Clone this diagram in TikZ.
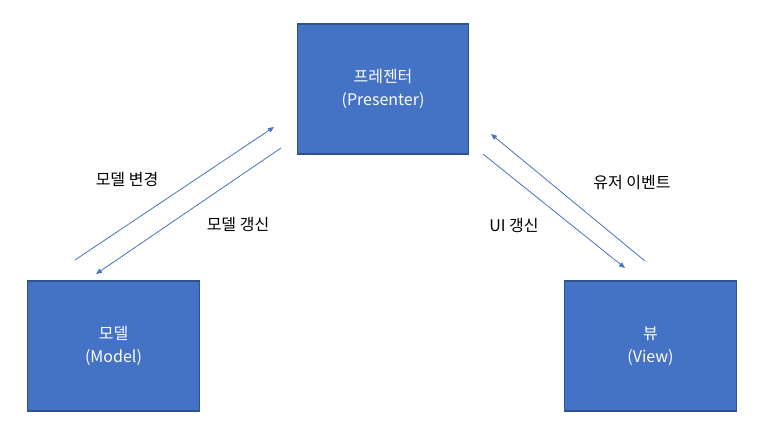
\documentclass[tikz,border=0pt]{standalone}
\usepackage{fontspec}
\setmainfont{Noto Sans CJK KR}
\usepackage{xcolor}
\usetikzlibrary{arrows.meta,positioning}
\definecolor{MvpBlue}{HTML}{4472C4}
\definecolor{MvpEdge}{HTML}{2F528F}
\tikzset{
  >={Triangle[length=4.5pt,width=3.6pt]},
  flow/.style={->,line width=0.6pt,draw=MvpBlue},
  part/.style={draw=MvpEdge,fill=MvpBlue,line width=0.9pt,
    minimum width=128.5pt,minimum height=97.5pt,align=center,
    text=white,font=\fontsize{12}{17}\selectfont,inner sep=0pt},
  tag/.style={font=\fontsize{12}{14}\selectfont,inner sep=0pt}
}
\begin{document}
\begin{tikzpicture}[x=0.75pt,y=-0.75pt]
  \useasboundingbox (0,0) rectangle (764,436);
  \node[part] (presenter) at (383,89) {프레젠터\\(Presenter)};
  \node[part] (model) at (113.5,346) {모델\\(Model)};
  \node[part] (view) at (650.5,346) {뷰\\(View)};
  % connector ends
  \coordinate (m1) at (75,260);   \coordinate (p1) at (274,127);
  \coordinate (p2) at (281,148);  \coordinate (m2) at (96,274);
  \coordinate (p3) at (483,154);  \coordinate (v3) at (625,268);
  \coordinate (v4) at (645,261);  \coordinate (p4) at (491,134);
  \draw[flow] (m1) -- (p1);
  \draw[flow] (p2) -- (m2);
  \draw[flow] (p3) -- (v3);
  \draw[flow] (v4) -- (p4);
  \node[tag] (change) at (127,179) {모델 변경};
  \node[tag] (update) at (238,224) {모델 갱신};
  \node[tag] (uiupdate) at (514,225) {UI 갱신};
  \node[tag] (event) at (632,183) {유저 이벤트};
\end{tikzpicture}
\end{document}
